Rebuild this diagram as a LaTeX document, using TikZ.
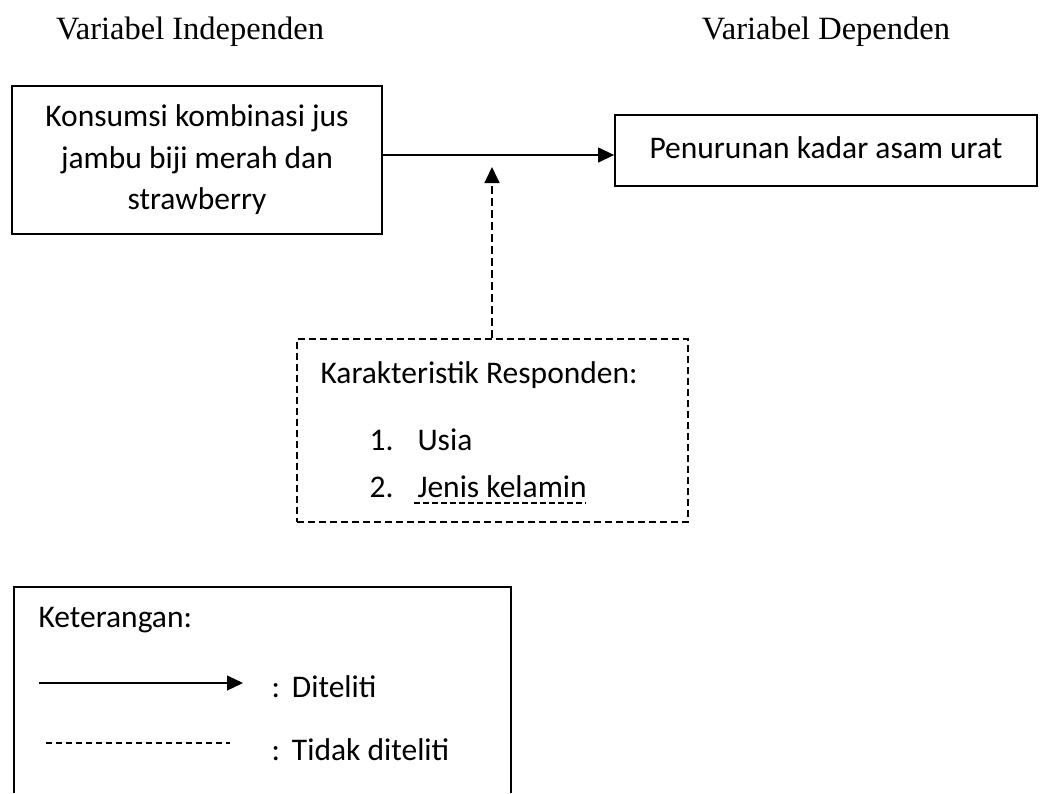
\documentclass[tikz,border=0pt]{standalone}
\usepackage{fontspec}
\setmainfont{Carlito}
\newfontfamily\headfont{Liberation Serif}
\usetikzlibrary{arrows.meta}

\tikzset{
  varbox/.style={draw, line width=1.8pt, align=center, inner sep=0pt},
  resbox/.style={draw, line width=1.6pt, dash pattern=on 7pt off 4pt, inner sep=0pt},
  body/.style={font=\fontsize{31.5}{41.5}\selectfont},
  headtext/.style={font=\headfont\fontsize{32.5}{36}\selectfont},
  tip/.style={-{Triangle[length=16pt,width=15pt]}}
}

\begin{document}
\begin{tikzpicture}[x=1pt,y=-1pt]

\useasboundingbox (0,0) rectangle (1042,793);
\coordinate (H1) at (190,32);
\coordinate (H2) at (826,32);
\coordinate (X) at (197,160);
\coordinate (Y) at (826,150.5);
\coordinate (R) at (492.5,430.5);
\coordinate (T) at (492,167);
\coordinate (K) at (35,620);
\coordinate (U) at (366,440);
\coordinate (J) at (366,487);
\coordinate (LA) at (39,683);
\coordinate (LB) at (243,683);
\coordinate (LC) at (46,743);
\coordinate (LD) at (230,743);

\node [headtext] (hind) at (H1) {Variabel Independen};
\node [headtext] (hdep) at (H2) {Variabel Dependen};

\node [varbox, body, minimum width=370pt, minimum height=148pt] (jus) at (X)
  {Konsumsi kombinasi jus\\jambu biji merah dan\\strawberry};
\node [varbox, body, minimum width=422pt, minimum height=71pt] (asam) at (Y)
  {\raisebox{5pt}{Penurunan kadar asam urat}};
\node [resbox, minimum width=391pt, minimum height=183pt] (resp) at (R) {};

\node [body, anchor=west] (kar) at (317,375) {Karakteristik Responden:};
\node [body, anchor=west] (usia) at (U) {\makebox[48pt][l]{1.}Usia};
\node [body, anchor=west] (jk) at (J) {\makebox[48pt][l]{2.}Jenis kelamin};
\draw [line width=1.3pt, dash pattern=on 6pt off 3pt] (414,503) -- (586,503);

\draw [tip, line width=1.3pt] (jus.east |- 0,155) -- (asam.west |- 0,155);
\draw [tip, line width=1.6pt, dash pattern=on 8pt off 4pt] (resp.north -| T) -- (T);

\draw [line width=1.3pt] (14,793) -- (14,587) -- (511,587) -- (511,793);
\node [body, anchor=west] (ket) at (K) {Keterangan:};
\draw [tip, line width=1.1pt] (LA) -- (LB);
\node [body, anchor=west] (dit) at (268,687) {:\hspace{12pt}Diteliti};
\draw [line width=1.1pt, dash pattern=on 6pt off 4pt] (LC) -- (LD);
\node [body, anchor=west] (tdk) at (268,750) {:\hspace{12pt}Tidak diteliti};
\end{tikzpicture}
\end{document}
